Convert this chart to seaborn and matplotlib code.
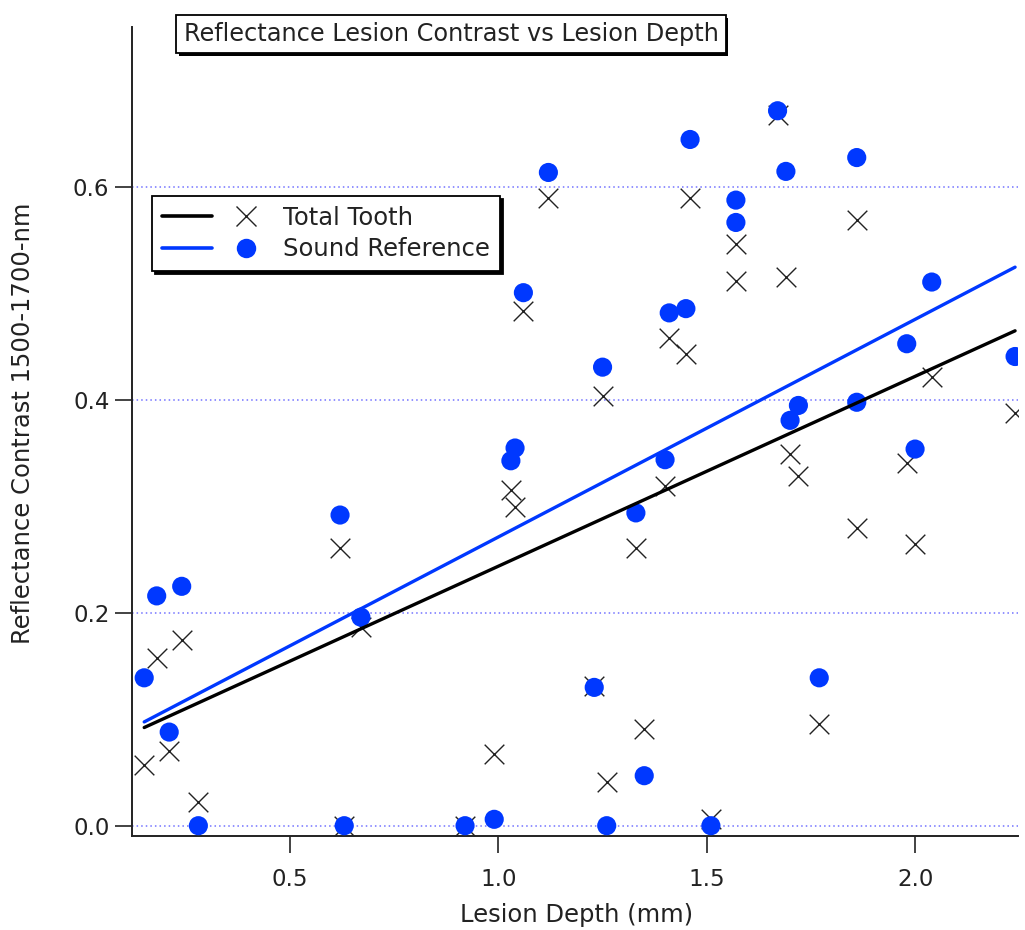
import numpy as np
import matplotlib
matplotlib.use("Agg")
import matplotlib.pyplot as plt
from matplotlib.lines import Line2D
from matplotlib.legend_handler import HandlerTuple
from matplotlib import patheffects
import seaborn as sns

# ---- data ----
depth = [0.15, 0.18, 0.21, 0.24, 0.28, 0.62, 0.63, 0.67, 0.92, 0.99,
         1.03, 1.04, 1.06, 1.12, 1.23, 1.25, 1.26, 1.33, 1.35, 1.40,
         1.41, 1.45, 1.46, 1.51, 1.57, 1.57, 1.67, 1.69, 1.70, 1.72,
         1.77, 1.86, 1.86, 1.98, 2.00, 2.04, 2.24]
total_tooth = [0.057, 0.158, 0.070, 0.175, 0.022, 0.261, 0.0, 0.187, 0.0, 0.067,
               0.316, 0.300, 0.484, 0.590, 0.131, 0.404, 0.041, 0.261, 0.091, 0.319,
               0.458, 0.443, 0.590, 0.006, 0.547, 0.512, 0.668, 0.516, 0.349, 0.329,
               0.096, 0.569, 0.280, 0.341, 0.265, 0.422, 0.388]
sound_ref = [0.139, 0.216, 0.088, 0.225, 0.0, 0.292, 0.0, 0.196, 0.0, 0.006,
             0.343, 0.355, 0.501, 0.614, 0.130, 0.431, 0.0, 0.294, 0.047, 0.344,
             0.482, 0.486, 0.645, 0.0, 0.588, 0.567, 0.672, 0.615, 0.381, 0.395,
             0.139, 0.628, 0.398, 0.453, 0.354, 0.511, 0.441]
x_ticks = [0.5, 1.0, 1.5, 2.0]
x_tick_labels = ["0.5", "1.0", "1.5", "2.0"]
y_ticks = [0.0, 0.2, 0.4, 0.6]
y_tick_labels = ["0.0", "0.2", "0.4", "0.6"]
series_names = ["Total Tooth", "Sound Reference"]
title = "Reflectance Lesion Contrast vs Lesion Depth"
x_label = "Lesion Depth (mm)"
y_label = "Reflectance Contrast 1500-1700-nm"

BLUE = "#0038ff"
DARK = "#222222"

sns.set_style("white")
plt.rcParams["font.family"] = ["DejaVu Sans"]

W, H = 1025, 930
fig = plt.figure(figsize=(W / 100, H / 100), dpi=100)
L, R, T, B = 131.7, 1018, 26.7, 835.7
ax = fig.add_axes([L / W, 1 - B / H, (R - L) / W, (B - T) / H])

sns.scatterplot(x=depth, y=total_tooth, marker="x", s=200, color=DARK,
                linewidth=1.0, ax=ax, zorder=2, legend=False)
sns.scatterplot(x=depth, y=sound_ref, marker="o", s=190, color=BLUE,
                edgecolor="none", ax=ax, zorder=3, legend=False)
sns.regplot(x=depth, y=total_tooth, scatter=False, ci=None, truncate=True,
            color="black", line_kws={"lw": 2.4, "zorder": 4}, ax=ax)
sns.regplot(x=depth, y=sound_ref, scatter=False, ci=None, truncate=True,
            color=BLUE, line_kws={"lw": 2.4, "zorder": 5}, ax=ax)

ax.set_xlim(0.12, 2.247)
ax.set_ylim(-0.0094, 0.751)
ax.set_xticks(x_ticks)
ax.set_xticklabels(x_tick_labels)
ax.set_yticks(y_ticks)
ax.set_yticklabels(y_tick_labels)

ax.set_axisbelow(True)
ax.yaxis.grid(True, linestyle=(0, (1, 2)), color="#7373ff", linewidth=1.1)
ax.xaxis.grid(False)

for s in ["top", "right"]:
    ax.spines[s].set_visible(False)
for s in ["left", "bottom"]:
    ax.spines[s].set_color(DARK)
    ax.spines[s].set_linewidth(1.4)

ax.tick_params(axis="y", direction="out", length=12, width=1.2, color=DARK,
               labelsize=16.5, pad=4, labelcolor=DARK, left=True)
ax.tick_params(axis="x", direction="out", length=12, width=1.2, color=DARK,
               labelsize=16.5, pad=11, labelcolor=DARK, bottom=True)

ax.set_xlabel(x_label, fontsize=17.5, color=DARK)
ax.set_ylabel(y_label, fontsize=17.5, color=DARK)
ax.xaxis.set_label_coords((577 - L) / (R - L), (B - 903) / (B - T))
ax.yaxis.set_label_coords((35 - L) / (R - L), (B - 423) / (B - T))

# legend
h_line_k = Line2D([], [], color="black", lw=2.6)
h_mk_x = Line2D([], [], color=DARK, marker="x", ls="none", markersize=14, mew=1.0)
h_line_b = Line2D([], [], color=BLUE, lw=2.6)
h_mk_o = Line2D([], [], color=BLUE, marker="o", ls="none", markersize=14, mec="none")
leg = ax.legend(handles=[(h_line_k, h_mk_x), (h_line_b, h_mk_o)], labels=series_names,
                handler_map={tuple: HandlerTuple(ndivide=None, pad=0.37)},
                loc="upper left", bbox_to_anchor=(152 / W, 1 - 196 / H),
                bbox_transform=fig.transFigure, borderaxespad=0,
                fontsize=17.5, handlelength=4.5, handletextpad=0.5,
                borderpad=0.4, labelspacing=0.3, frameon=True, fancybox=False,
                edgecolor="black", framealpha=1,
                shadow={"facecolor": "black", "edgecolor": "black", "alpha": 1})
leg.get_frame().set_linewidth(1.3)
for t in leg.get_texts():
    t.set_color(DARK)

# title box
tt = fig.text(451 / W, 1 - 34 / H, title, ha="center", va="center", fontsize=17.3,
              color=DARK,
              bbox=dict(boxstyle="square,pad=0.3", fc="white", ec="black", lw=1.3))
tt.get_bbox_patch().set_path_effects([
    patheffects.SimplePatchShadow(offset=(2, -2), shadow_rgbFace="black", alpha=1),
    patheffects.Normal()])

fig.savefig("out.png", dpi=100)
